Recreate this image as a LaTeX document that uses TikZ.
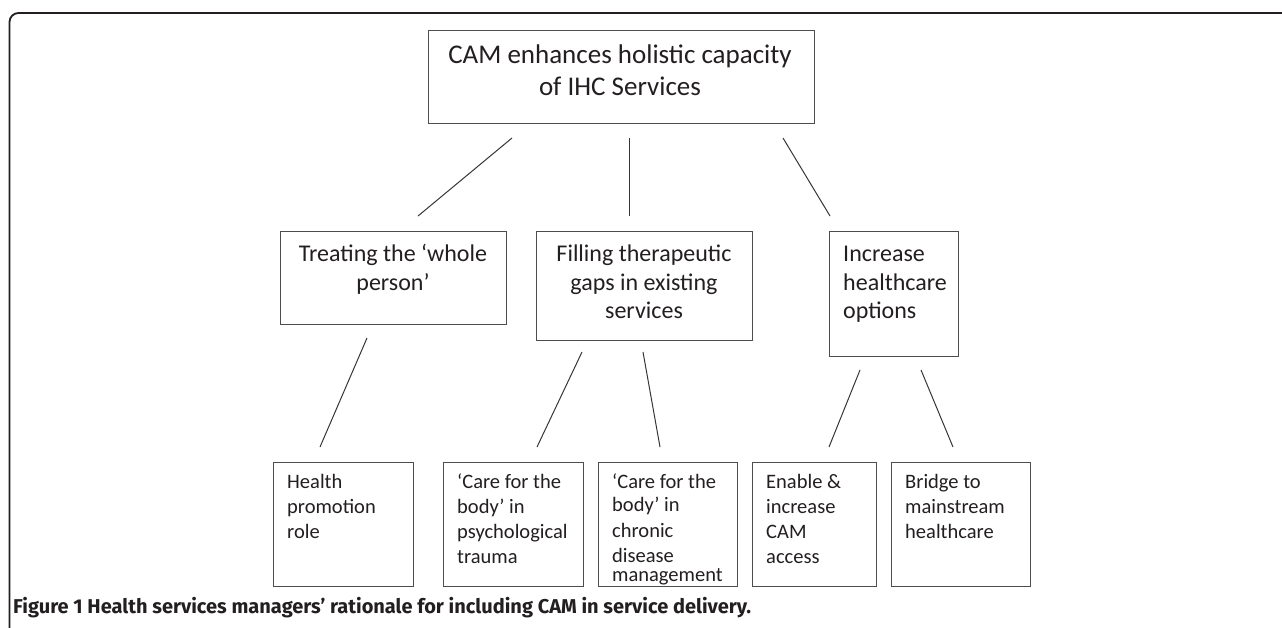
\documentclass[tikz,border=0pt]{standalone}
\usepackage{fontspec}
\setmainfont{Carlito}
\newfontfamily\capfont{Fira Sans}
\definecolor{ink}{HTML}{231F20}
\definecolor{boxline}{HTML}{4D4D4D}
\tikzset{
  box/.style={draw=boxline, line width=1.3pt, rectangle, inner sep=0pt, anchor=north west},
  conn/.style={draw=ink!90, line width=1pt},
  frame/.style={draw=ink, line width=1.8pt, rounded corners=9pt},
  tlarge/.style={text=ink, inner sep=0pt, font=\fontsize{27}{32}\selectfont, anchor=base},
  tmid/.style={text=ink, inner sep=0pt, font=\fontsize{24}{29}\selectfont, anchor=base},
  tmidl/.style={tmid, anchor=base west},
  tsmall/.style={text=ink, inner sep=0pt, font=\fontsize{20.5}{25}\selectfont, anchor=base west},
  caption/.style={text=ink, inner sep=0pt, font=\capfont\bfseries\fontsize{20}{24}\selectfont, anchor=base west}
}
\begin{document}
\begin{tikzpicture}[x=1pt,y=-1pt]
\useasboundingbox (0,0) rectangle (1282,627);
\fill[white] (0,0) rectangle (1282,627);
% frame
\coordinate (fa) at (9.5,640);
\coordinate (fb) at (9.5,13);
\coordinate (fc) at (1295,13);
\draw[frame] (fa) -- (fb) -- (fc);

% boxes
\node[box, minimum width=386pt, minimum height=93pt] (top) at (428,30) {};
\node[box, minimum width=226pt, minimum height=93pt] (m1) at (280,231) {};
\node[box, minimum width=216pt, minimum height=109pt] (m2) at (536,231) {};
\node[box, minimum width=129pt, minimum height=125pt] (m3) at (829,231) {};
\node[box, minimum width=140pt, minimum height=124pt] (b1) at (273,462) {};
\node[box, minimum width=140pt, minimum height=124pt] (b2) at (443,462) {};
\node[box, minimum width=139pt, minimum height=124pt] (b3) at (598,462) {};
\node[box, minimum width=124pt, minimum height=124pt] (b4) at (752,462) {};
\node[box, minimum width=139pt, minimum height=124pt] (b5) at (891,462) {};

% texts
\node[tlarge] (t0a) at (620,63) {CAM enhances holistic capacity};
\node[tlarge] (t0b) at (620,95) {of IHC Services};

\node[tmid] (t1a) at (393,261) {Treating the ‘whole};
\node[tmid] (t1b) at (393,290) {person’};

\node[tmid] (t2a) at (644,261) {Filling therapeutic};
\node[tmid] (t2b) at (644,290) {gaps in existing};
\node[tmid] (t2c) at (644,318) {services};

\node[tmidl] (t3a) at (843,261) {Increase};
\node[tmidl] (t3b) at (843,290) {healthcare};
\node[tmidl] (t3c) at (843,318) {options};

\node[tsmall] (u1a) at (287,488) {Health};
\node[tsmall] (u1b) at (287,513) {promotion};
\node[tsmall] (u1c) at (287,538) {role};

\node[tsmall] (u2a) at (457,488) {‘Care for the};
\node[tsmall] (u2b) at (457,513) {body’ in};
\node[tsmall] (u2c) at (457,538) {psychological};
\node[tsmall] (u2d) at (457,563) {trauma};

\node[tsmall] (u3a) at (612,488) {‘Care for the};
\node[tsmall] (u3b) at (612,511) {body’ in};
\node[tsmall] (u3c) at (612,537) {chronic};
\node[tsmall] (u3d) at (612,562) {disease};
\node[tsmall] (u3e) at (612,581) {management};

\node[tsmall] (u4a) at (766,488) {Enable \&};
\node[tsmall] (u4b) at (766,513) {increase};
\node[tsmall] (u4c) at (766,538) {CAM};
\node[tsmall] (u4d) at (766,563) {access};

\node[tsmall] (u5a) at (905,488) {Bridge to};
\node[tsmall] (u5b) at (905,513) {mainstream};
\node[tsmall] (u5c) at (905,538) {healthcare};

\node[caption] (cap) at (13,613) {Figure 1 Health services managers’ rationale for including CAM in service delivery.};

% connectors
\coordinate (c1a) at (512,138); \coordinate (c1b) at (418,216);
\coordinate (c2a) at (629,138); \coordinate (c2b) at (629,216);
\coordinate (c3a) at (783,138); \coordinate (c3b) at (830,216);
\coordinate (d1a) at (367,338); \coordinate (d1b) at (320,447);
\coordinate (d2a) at (582,352); \coordinate (d2b) at (537,447);
\coordinate (d3a) at (643,352); \coordinate (d3b) at (660,447);
\coordinate (d4a) at (860,370); \coordinate (d4b) at (829,447);
\coordinate (d5a) at (921,370); \coordinate (d5b) at (953,447);
\draw[conn] (c1a) -- (c1b);
\draw[conn] (c2a) -- (c2b);
\draw[conn] (c3a) -- (c3b);
\draw[conn] (d1a) -- (d1b);
\draw[conn] (d2a) -- (d2b);
\draw[conn] (d3a) -- (d3b);
\draw[conn] (d4a) -- (d4b);
\draw[conn] (d5a) -- (d5b);
\end{tikzpicture}
\end{document}
